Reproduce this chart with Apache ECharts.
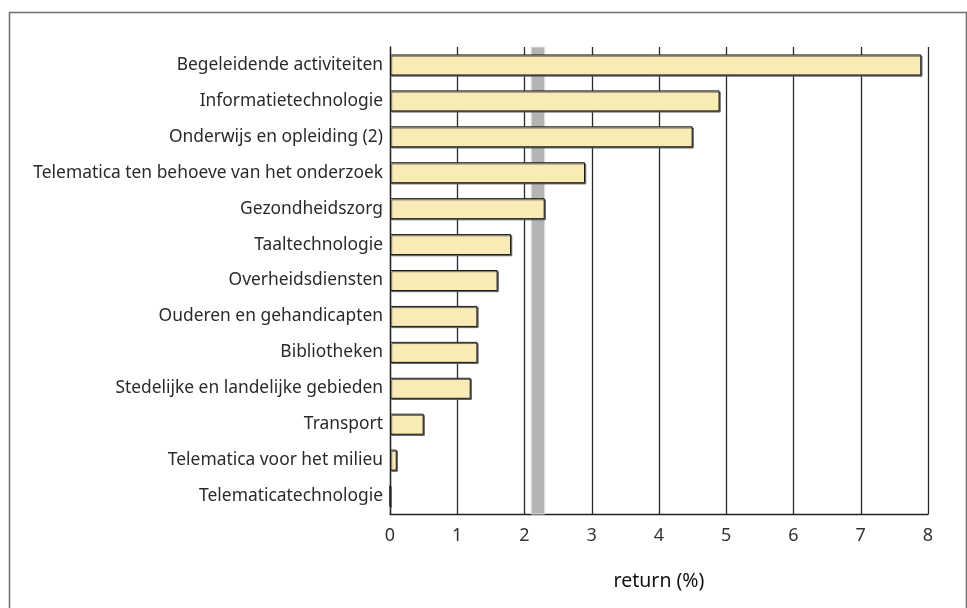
<!DOCTYPE html>
<html>
<head>
<meta charset="utf-8">
<script src="https://cdn.jsdelivr.net/npm/echarts@6/dist/echarts.min.js"></script>
<style>html,body{margin:0;padding:0;background:#fff;}#c{width:967px;height:608px;}</style>
</head>
<body>
<div id="c"></div>
<script>
const categories = [
  'Begeleidende activiteiten',
  'Informatietechnologie',
  'Onderwijs en opleiding (2)',
  'Telematica ten behoeve van het onderzoek',
  'Gezondheidszorg',
  'Taaltechnologie',
  'Overheidsdiensten',
  'Ouderen en gehandicapten',
  'Bibliotheken',
  'Stedelijke en landelijke gebieden',
  'Transport',
  'Telematica voor het milieu',
  'Telematicatechnologie'
];
const returnValues = [7.9, 4.9, 4.5, 2.9, 2.3, 1.8, 1.6, 1.3, 1.3, 1.2, 0.5, 0.1, 0];
const averageBand = [2.1, 2.3];
const xTicks = [0, 1, 2, 3, 4, 5, 6, 7, 8];
const axisTitle = 'return (%)';

const chart = echarts.init(document.getElementById('c'), null, {renderer: 'canvas'});
chart.setOption({
  animation: false,
  backgroundColor: '#fff',
  grid: {left: 390, right: 39, top: 47, bottom: 94, containLabel: false},
  graphic: [{
    type: 'rect', silent: true, z: 0,
    shape: {x: 9.5, y: 12.5, width: 957, height: 640},
    style: {fill: 'none', stroke: '#6e6e6e', lineWidth: 1.5}
  }],
  xAxis: {
    type: 'value', min: xTicks[0], max: xTicks[xTicks.length - 1], interval: 1,
    name: axisTitle, nameLocation: 'middle', nameGap: 57,
    nameTextStyle: {fontFamily: 'Noto Sans', fontSize: 19.5, color: '#111'},
    axisLine: {show: true, lineStyle: {color: '#222', width: 1.3}},
    axisTick: {show: false},
    axisLabel: {fontFamily: 'Noto Sans', fontSize: 18, color: '#333', margin: 13},
    splitLine: {show: true, lineStyle: {color: '#2a2a2a', width: 1.3}}
  },
  yAxis: {
    type: 'category', data: categories, inverse: true,
    axisLine: {show: true, lineStyle: {color: '#222', width: 1.3}},
    axisTick: {show: false},
    axisLabel: {fontFamily: 'Noto Sans', fontSize: 17.4, color: '#2a2a2a', margin: 7}
  },
  series: [{
    type: 'line', data: [], z: 1, silent: true,
    markArea: {
      silent: true,
      itemStyle: {color: '#b4b4b4', borderColor: '#e2e2e2', borderWidth: 1},
      data: [[{xAxis: averageBand[0]}, {xAxis: averageBand[1]}]]
    }
  }, {
    type: 'bar', data: returnValues, barWidth: 21, z: 3,
    itemStyle: {
      color: '#f9ebb6', borderColor: '#1a1a1a', borderWidth: 1,
      shadowColor: 'rgba(90,90,90,0.9)', shadowOffsetX: 1.2, shadowOffsetY: 1.2, shadowBlur: 0
    }
  }]
});
</script>
</body>
</html>
